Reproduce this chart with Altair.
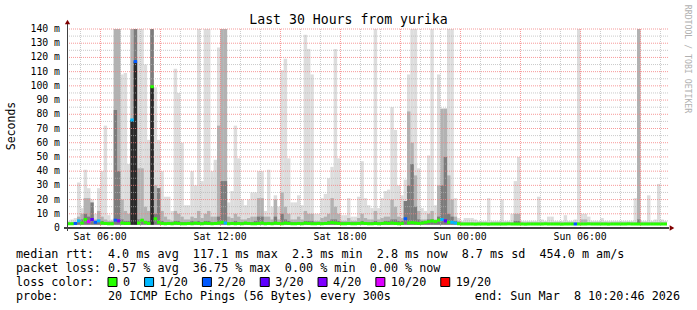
import altair as alt
import pandas as pd

NB = "\u00a0"

# ---------------- data ----------------
start_h = 4 + 20 / 60 + 46 / 3600      # Sat 04:20:46, hours since Sat 00:00
step_h = 1 / 6                          # 10 minute steps
span_h = 30
rtt_min = 2.3

# outer (lightest) smoke top, ms
light = [
    5, 6, 7, 32, 14, 41, 28, 20, 10, 28,
    40, 72, 9, 6, 140, 140, 108, 109, 45, 45,
    140, 140, 140, 115, 62, 140, 99, 62, 40, 22,
    22, 12, 112, 95, 60, 16, 16, 40, 30, 140,
    33, 140, 140, 40, 48, 127, 140, 140, 18, 26,
    72, 49, 20, 16, 20, 25, 25, 40, 40, 12,
    41, 15, 23, 15, 111, 119, 49, 18, 18, 23,
    16, 136, 126, 108, 10, 10, 21, 24, 35, 43,
    126, 49, 9, 9, 21, 8, 8, 22, 47, 21,
    16, 14, 140, 14, 21, 26, 27, 85, 69, 30,
    23, 34, 108, 140, 140, 42, 14, 12, 51, 140,
    16, 108, 37, 84, 140, 140, 21, 7, 5, 7,
    7, 7, 6, 5, 5, 5, 21, 5, 5, 5,
    20, 5, 5, 10, 33, 50, 5, 5, 5, 5,
    5, 22, 6, 5, 8, 8, 5, 5, 5, 9,
    5, 5, 6, 140, 10, 10, 8, 5, 5, 5,
    7, 5, 5, 5, 5, 5, 5, 5, 5, 5,
    21, 140, 5, 5, 23, 5, 6, 31, 6, 5,
]
# middle smoke top, ms
medium = [
    4, 4, 4, 8, 10, 21, 21, 12, 6, 12,
    8, 6, 5, 5, 140, 140, 20, 12, 10, 140,
    140, 42, 42, 15, 12, 140, 30, 28, 12, 8,
    6, 5, 12, 10, 8, 6, 6, 8, 7, 12,
    7, 10, 12, 8, 8, 72, 140, 140, 8, 7,
    10, 8, 6, 6, 7, 8, 8, 21, 21, 8,
    8, 6, 20, 6, 25, 15, 10, 6, 6, 8,
    6, 12, 10, 10, 5, 5, 7, 8, 10, 21,
    15, 10, 5, 5, 7, 5, 5, 7, 10, 7,
    6, 6, 12, 6, 7, 8, 8, 20, 15, 8,
    7, 19, 82, 60, 37, 12, 6, 6, 10, 12,
    6, 30, 84, 84, 37, 20, 8, 5, 4, 4,
    4, 4, 4, 4, 4, 4, 4, 4, 4, 4,
    4, 4, 4, 4, 10, 10, 4, 4, 4, 4,
    4, 4, 4, 4, 4, 4, 4, 4, 4, 4,
    4, 4, 4, 4, 6, 6, 4, 4, 4, 4,
    4, 4, 4, 4, 4, 4, 4, 4, 4, 4,
    4, 140, 4, 4, 4, 4, 4, 4, 4, 4,
]
# inner (dark) smoke top, ms
dark = [
    3.5, 3.5, 4, 5, 6, 10, 8, 18, 5, 5,
    5, 4, 4, 4, 83, 40, 6, 5, 5, 20,
    140, 6, 6, 5, 5, 140, 10, 28, 5, 4,
    4, 4, 5, 5, 4, 4, 4, 5, 4, 5,
    4, 5, 5, 4, 4, 8, 33, 33, 4, 4,
    5, 4, 4, 4, 4, 4, 5, 8, 8, 4,
    4, 4, 8, 4, 10, 6, 5, 4, 4, 4,
    4, 5, 5, 5, 4, 4, 4, 4, 5, 6,
    6, 5, 4, 4, 4, 4, 4, 4, 5, 4,
    4, 4, 5, 4, 4, 5, 5, 6, 6, 5,
    5, 19, 30, 45, 15, 6, 5, 5, 6, 6,
    5, 8, 30, 50, 10, 8, 5, 4, 3, 3,
    3, 3, 3, 3, 3, 3, 3, 3, 3, 3,
    3, 3, 3, 3, 5, 5, 3, 3, 3, 3,
    3, 3, 3, 3, 3, 3, 3, 3, 3, 3,
    3, 3, 3, 3, 3, 3, 3, 3, 3, 3,
    3, 3, 3, 3, 3, 3, 3, 3, 3, 3,
    3, 6, 3, 3, 3, 3, 3, 3, 3, 3,
]
# near-black core columns (step index, top ms)
core_steps = [19, 20, 25]
core_tops = [76.0, 117.1, 99.4]

# median rtt per step, ms
median = [
    3.0, 3.0, 3.2, 5.0, 3.5, 6.0, 4.5, 6.0, 4.0, 5.0,
    3.5, 3.2, 3.0, 3.0, 5.5, 5.0, 3.5, 3.2, 3.2, 76.0,
    117.1, 3.5, 5.5, 4.0, 3.2, 99.4, 6.5, 4.0, 3.2, 3.0,
    3.2, 3.0, 3.5, 3.2, 3.0, 3.0, 3.2, 3.0, 3.5, 3.2,
    3.0, 3.5, 3.2, 3.0, 3.2, 3.5, 4.0, 3.5, 3.0, 3.2,
    3.0, 3.2, 3.0, 3.5, 3.2, 3.0, 3.0, 3.2, 3.5, 3.0,
    3.2, 3.0, 3.5, 3.2, 3.0, 3.5, 3.2, 3.0, 3.0, 3.2,
    3.0, 3.5, 3.2, 3.0, 3.0, 3.2, 3.0, 3.2, 3.5, 3.8,
    3.5, 3.2, 3.0, 3.0, 3.2, 3.0, 3.0, 3.2, 3.5, 3.2,
    3.0, 3.0, 3.2, 3.0, 3.2, 3.5, 3.2, 3.5, 3.2, 3.0,
    3.2, 6.5, 3.5, 3.8, 3.5, 3.2, 3.5, 4.0, 4.5, 5.0,
    4.5, 5.5, 6.0, 5.0, 4.0, 4.0, 3.5, 3.0, 2.8, 2.8,
    2.8, 2.8, 2.7, 2.8, 2.8, 2.8, 2.7, 2.8, 2.8, 2.8,
    2.8, 2.8, 2.9, 2.8, 2.8, 2.8, 2.8, 2.7, 2.8, 2.8,
    2.8, 2.8, 2.8, 2.9, 2.8, 2.8, 2.8, 2.8, 2.7, 2.8,
    2.8, 2.8, 2.8, 2.8, 2.8, 2.8, 2.9, 2.8, 2.8, 2.8,
    2.8, 2.8, 2.7, 2.8, 2.8, 2.8, 2.8, 2.8, 2.9, 2.8,
    2.8, 2.8, 2.8, 2.8, 2.8, 2.8, 2.8, 2.8, 2.8, 2.8,
]
# lost pings (out of 20) for steps with loss; all other steps 0
loss_steps = [2, 3, 6, 7, 8, 9, 14, 15, 19, 20, 47, 101, 112, 113, 115, 116, 152]
loss_values = [2, 1, 10, 3, 2, 1, 2, 4, 1, 2, 1, 2, 1, 3, 1, 1, 2]

loss_counts = [0, 1, 2, 3, 4, 10, 19]
loss_labels = ["0", "1/20", "2/20", "3/20", "4/20", "10/20", "19/20"]
loss_colors = ["#26ff00", "#00b8ff", "#0059ff", "#5e00ff", "#7e00ff", "#dd00ff", "#ff0000"]

tick_hours = [6, 12, 18, 24, 30]
tick_labels = ["Sat 06:00", "Sat 12:00", "Sat 18:00", "Sun 00:00", "Sun 06:00"]
y_ticks = [0, 10, 20, 30, 40, 50, 60, 70, 80, 90, 100, 110, 120, 130, 140]

title_text = "Last 30 Hours from yurika"
y_title = "Seconds"
stat_lines = [
    "median rtt:  4.0 ms avg  117.1 ms max  2.3 ms min  2.8 ms now  8.7 ms sd  454.0 m am/s",
    "packet loss: 0.57 % avg  36.75 % max  0.00 % min  0.00 % now",
]
loss_caption = "loss color:"
probe_text = "probe:       20 ICMP Echo Pings (56 Bytes) every 300s"
end_text = "end: Sun Mar  8 10:20:46 2026"
watermark = "RRDTOOL / TOBI OETIKER"

# ---------------- layout ----------------
W, H = 600, 199
PL, PT = 67, 29
MONO = "DejaVu Sans Mono"
CW = 7.08

n = len(light)
loss = [0] * n
for s, v in zip(loss_steps, loss_values):
    loss[s] = v
t0 = [start_h + i * step_h for i in range(n)]
t1 = [min(t + step_h + 0.006, start_h + span_h) for t in t0]
df = pd.DataFrame({
    "t0": t0, "t1": t1, "lo": rtt_min,
    "light": light, "medium": medium, "dark": dark, "median": median,
    "loss": [loss_labels[loss_counts.index(v)] for v in loss],
})
core = pd.DataFrame({
    "t0": [t0[s] for s in core_steps], "t1": [t1[s] for s in core_steps],
    "top": core_tops, "lo": rtt_min,
})

xs = alt.Scale(domain=[start_h, start_h + span_h], nice=False, zero=False)
ys = alt.Scale(domain=[0, 140], nice=False, zero=True)


def X(f):
    return alt.X(f, type="quantitative", scale=xs, axis=None, title=None)


def Y(f):
    return alt.Y(f, type="quantitative", scale=ys, axis=None, title=None)


dummy = pd.DataFrame({"a": [0]})


def smoke(col, color):
    return alt.Chart(df).mark_rect(color=color, strokeWidth=0).encode(
        x=X("t0"), x2="t1", y=Y(col), y2="lo")


layers = [
    smoke("light", "#dddddd"),
    smoke("medium", "#b2b2b2"),
    smoke("dark", "#7c7c7c"),
    alt.Chart(core).mark_rect(color="#2a2a2a", strokeWidth=0).encode(
        x=X("t0"), x2="t1", y=Y("top"), y2="lo"),
]

# grid
gh = list(range(5, 35))
grid_v = pd.DataFrame({
    "h": gh,
    "c": ["rgba(245,128,128,0.8)" if h % 3 == 0 else "rgba(180,180,180,0.7)" for h in gh],
})
gv_vals = list(range(5, 141, 5))
grid_h = pd.DataFrame({
    "v": gv_vals,
    "c": ["rgba(245,128,128,0.8)" if v % 10 == 0 else "rgba(180,180,180,0.7)" for v in gv_vals],
})
layers.append(alt.Chart(grid_v).mark_rule(strokeWidth=1, strokeDash=[1, 1], xOffset=0.42).encode(
    x=X("h"), y=alt.value(0), y2=alt.value(H), color=alt.Color("c:N", scale=None)))
layers.append(alt.Chart(grid_h).mark_rule(strokeWidth=1, strokeDash=[1, 1]).encode(
    y=Y("v"), x=alt.value(0), x2=alt.value(W + 2), color=alt.Color("c:N", scale=None)))

# median line coloured by loss
layers.append(alt.Chart(df).mark_rule(strokeWidth=3).encode(
    x=X("t0"), x2="t1", y=Y("median"),
    color=alt.Color("loss:N", scale=alt.Scale(domain=loss_labels, range=loss_colors), legend=None)))

# axes lines and arrows
layers.append(alt.Chart(dummy).mark_rule(color="#000000", strokeWidth=1.5).encode(
    x=alt.value(-3), x2=alt.value(W + 2), y=alt.value(H)))
layers.append(alt.Chart(dummy).mark_rule(color="#404040", strokeWidth=1).encode(
    x=alt.value(0.5), y=alt.value(-5), y2=alt.value(H + 3)))
layers.append(alt.Chart(dummy).mark_point(shape="triangle-up", filled=True, color="#800000",
                                          size=28, opacity=1).encode(
    x=alt.value(0.5), y=alt.value(-7)))
layers.append(alt.Chart(dummy).mark_point(shape="triangle-right", filled=True, color="#800000",
                                          size=28, opacity=1).encode(
    x=alt.value(W + 5), y=alt.value(H)))

# tick labels
ylab = pd.DataFrame({"v": y_ticks, "t": [("%d m" % v) if v else "0" for v in y_ticks]})
layers.append(alt.Chart(ylab).mark_text(font=MONO, fontSize=9.8, align="right", baseline="middle",
                                        color="#000000").encode(
    y=Y("v"), x=alt.value(-7), text="t:N"))
xlab = pd.DataFrame({"h": tick_hours, "t": tick_labels})
layers.append(alt.Chart(xlab).mark_text(font=MONO, fontSize=9.8, align="center", baseline="middle",
                                        color="#000000").encode(
    x=X("h"), y=alt.value(H + 9), text="t:N"))


def txt(s, x, y, size=11.75, align="left", angle=0, color="#000000", baseline="alphabetic"):
    kw = dict(font=MONO, fontSize=size, align=align, baseline=baseline, color=color,
              text=s.replace(" ", NB))
    if angle:
        kw["angle"] = angle
    return alt.Chart(dummy).mark_text(**kw).encode(x=alt.value(x - PL), y=alt.value(y - PT))


layers.append(txt(title_text, 348.5, 23.5, size=13.2, align="center"))
layers.append(txt(y_title, 14.5, 126, size=11.5, align="center", angle=270))
layers.append(txt(watermark, 685, 59, size=8.2, align="center", angle=90, color="#b0b0b0"))

rows_y = [258, 272, 286, 300]
for s, y in zip(stat_lines, rows_y[:2]):
    layers.append(txt(s, 16, y))
layers.append(txt(loss_caption, 16, rows_y[2]))
layers.append(txt(probe_text, 16, rows_y[3]))
layers.append(txt(end_text, 680, rows_y[3], align="right"))

bx = 108.0
for lab, col in zip(loss_labels, loss_colors):
    layers.append(alt.Chart(dummy).mark_rect(color=col, stroke="#000000", strokeWidth=1).encode(
        x=alt.value(bx - PL), x2=alt.value(bx + 9 - PL),
        y=alt.value(rows_y[2] - 8.5 - PT), y2=alt.value(rows_y[2] + 0.5 - PT)))
    layers.append(txt(lab, bx + 15, rows_y[2]))
    bx = bx + 15 + len(lab) * CW + 14.5

chart = alt.layer(*layers).properties(
    width=W, height=H,
    padding={"left": PL, "top": PT, "right": 697 - PL - W, "bottom": 310 - PT - H},
    autosize=alt.AutoSizeParams(type="none"),
    background="#ffffff",
).configure_view(strokeWidth=0)

chart.save("out.html", embed_options={"renderer": "svg", "actions": False})
